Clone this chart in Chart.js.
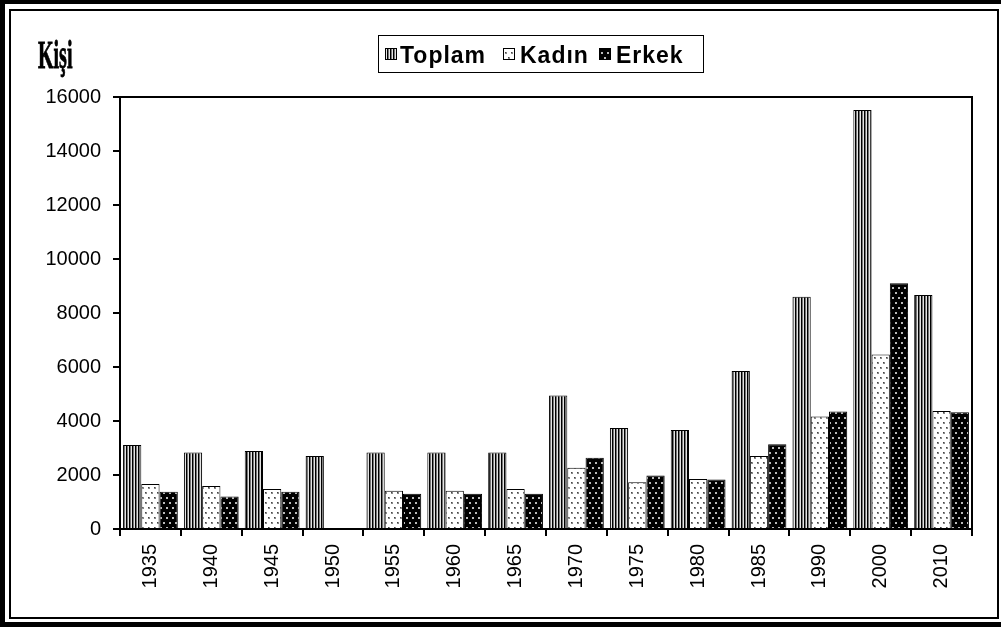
<!DOCTYPE html>
<html>
<head>
<meta charset="utf-8">
<script src="https://cdn.jsdelivr.net/npm/chart.js@4.4.0/dist/chart.umd.min.js"></script>
<style>
  body { margin: 0; background: #fff; }
  #wrap { position: relative; width: 1001px; height: 629px; overflow: hidden; }
  #chart { position: absolute; left: 0; top: 0; }
  .outer { position: absolute; left: 0; top: 0; width: 1010px; height: 627px; box-sizing: border-box;
           border: 5px solid #000; border-top-width: 4px; pointer-events: none; }
  .inner { position: absolute; left: 9px; top: 9px; width: 990px; height: 610px; box-sizing: border-box;
           border: 2px solid #000; pointer-events: none; }
  #unit { position: absolute; left: 38px; top: 31px; font-family: "Liberation Serif", serif; font-weight: bold;
          font-size: 40px; transform: scaleX(0.5); transform-origin: left top; color: #000;
          -webkit-text-stroke: 0.8px #000; }
</style>
</head>
<body>
<div id="wrap">
  <canvas id="chart" width="1001" height="629"></canvas>
  <div class="outer"></div>
  <div class="inner"></div>
  <div id="unit">Kişi</div>
</div>
<script>
const years = ['1935', '1940', '1945', '1950', '1955', '1960', '1965', '1970', '1975', '1980', '1985', '1990', '2000', '2010'];
const toplam = [3110, 2830, 2890, 2700, 2830, 2830, 2830, 4940, 3740, 3670, 5850, 8600, 15520, 8670];
const kadin = [1670, 1590, 1480, null, 1420, 1420, 1480, 2270, 1730, 1850, 2700, 4170, 6460, 4370];
const erkek = [1380, 1200, 1380, null, 1310, 1310, 1310, 2640, 1980, 1830, 3140, 4350, 9100, 4320];
const seriesNames = ['Toplam', 'Kadın', 'Erkek'];

const ctx = document.getElementById('chart').getContext('2d');

function makePattern(w, h, draw) {
  const c = document.createElement('canvas');
  c.width = w; c.height = h;
  draw(c.getContext('2d'));
  return ctx.createPattern(c, 'repeat');
}

const stripes = makePattern(3, 1, g => {
  g.fillStyle = '#000'; g.fillRect(0, 0, 1, 1);
  g.fillStyle = '#777'; g.fillRect(1, 0, 1, 1);
  g.fillStyle = '#e4e4e4'; g.fillRect(2, 0, 1, 1);
});
const lightDots = makePattern(6, 10, g => {
  g.fillStyle = '#fff'; g.fillRect(0, 0, 6, 10);
  g.fillStyle = '#888'; g.fillRect(1, 2, 2, 2); g.fillRect(4, 7, 2, 2);
  g.fillStyle = '#444'; g.fillRect(1, 2, 1, 1); g.fillRect(4, 7, 1, 1);
});
const darkDots = makePattern(6, 10, g => {
  g.fillStyle = '#000'; g.fillRect(0, 0, 6, 10);
  g.fillStyle = '#bbb'; g.fillRect(1, 2, 2, 2); g.fillRect(4, 7, 2, 2);
});
const fills = [stripes, lightDots, darkDots];

// plot frame + boxed legend
const framePlugin = {
  id: 'frame',
  afterDraw(chart) {
    const c = chart.ctx;
    const a = chart.chartArea;
    c.save();
    c.strokeStyle = '#000';
    c.lineWidth = 2;
    c.strokeRect(a.left, a.top, a.right - a.left, a.bottom - a.top);

    c.lineWidth = 1;
    c.fillStyle = '#fff';
    c.fillRect(378, 35, 326, 38);
    c.strokeRect(378.5, 35.5, 325, 37);
    const iconX = [385, 503, 599];
    const textX = [400, 520, 616];
    c.font = 'bold 23px "Liberation Sans", Arial, sans-serif';
    c.letterSpacing = '1px';
    c.textBaseline = 'alphabetic';
    chart.data.datasets.forEach((ds, i) => {
      c.fillStyle = ds.backgroundColor;
      c.fillRect(iconX[i], 48, 12, 12);
      c.strokeStyle = '#000';
      c.strokeRect(iconX[i] + 0.5, 48.5, 11, 11);
      c.fillStyle = '#000';
      c.fillText(ds.label, textX[i], 63);
    });
    c.restore();
  }
};

new Chart(ctx, {
  type: 'bar',
  data: {
    labels: years,
    datasets: [
      { label: seriesNames[0], data: toplam, backgroundColor: fills[0], borderColor: '#000', borderWidth: 1 },
      { label: seriesNames[1], data: kadin, backgroundColor: fills[1], borderColor: '#000', borderWidth: 1 },
      { label: seriesNames[2], data: erkek, backgroundColor: fills[2], borderColor: '#000', borderWidth: 1 }
    ]
  },
  options: {
    responsive: false,
    animation: false,
    devicePixelRatio: 1,
    layout: { padding: { top: 97, right: 29, bottom: 0, left: 0 } },
    datasets: { bar: { categoryPercentage: 0.9, barPercentage: 1.0 } },
    plugins: {
      legend: { display: false },
      tooltip: { enabled: false }
    },
    scales: {
      x: {
        afterFit: s => { s.height = 100; },
        grid: { offset: true, drawOnChartArea: false, drawTicks: true, tickLength: 7, color: '#000', lineWidth: 2 },
        border: { display: true, color: '#000', width: 2 },
        ticks: {
          minRotation: 90, maxRotation: 90, padding: 8, color: '#000',
          font: { family: '"Liberation Sans", Arial, sans-serif', size: 20 }
        }
      },
      y: {
        min: 0,
        max: 16000,
        afterFit: s => { s.width = 120; },
        grid: { drawOnChartArea: false, drawTicks: true, tickLength: 7, color: '#000', lineWidth: 2 },
        border: { display: true, color: '#000', width: 2 },
        ticks: {
          stepSize: 2000, padding: 12, color: '#000',
          callback: v => String(v),
          font: { family: '"Liberation Sans", Arial, sans-serif', size: 20 }
        }
      }
    }
  },
  plugins: [framePlugin]
});
</script>
</body>
</html>
